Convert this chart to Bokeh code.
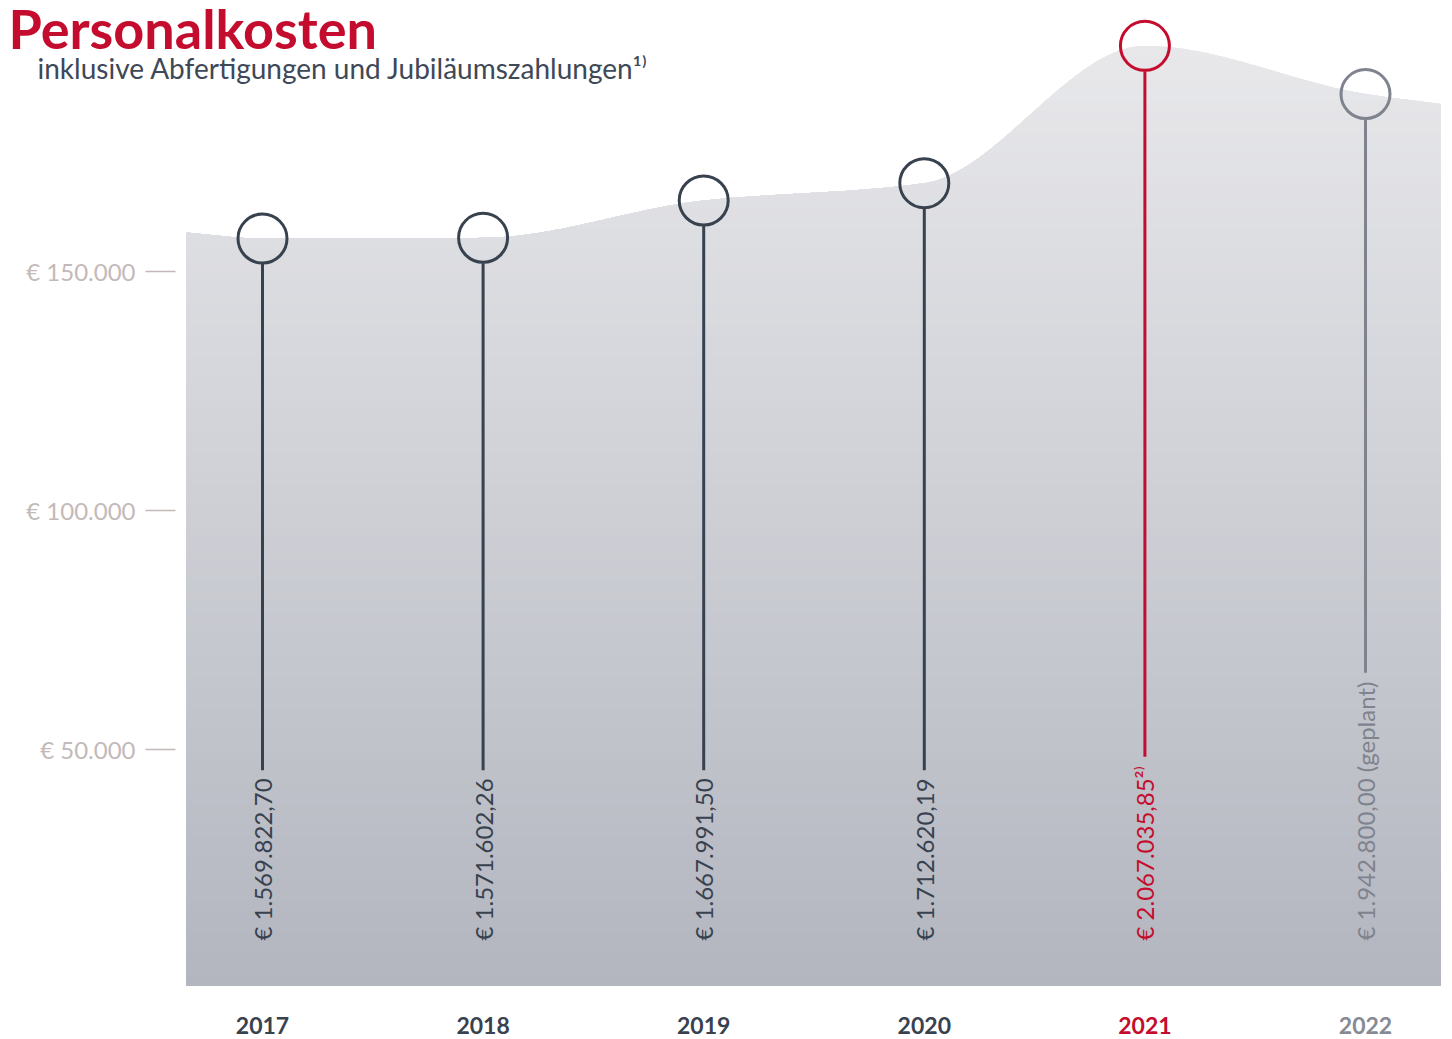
import numpy as np
from bokeh.plotting import figure
from bokeh.models import Range1d
from bokeh.core.properties import value
from bokeh.embed import file_html
from bokeh.resources import INLINE

# ---------------- data ----------------
years = ["2017", "2018", "2019", "2020", "2021", "2022"]
costs = [1569822.70, 1571602.26, 1667991.50, 1712620.19, 2067035.85, 1942800.00]
cost_labels = ["€ 1.569.822,70", "€ 1.571.602,26", "€ 1.667.991,50",
               "€ 1.712.620,19", "€ 2.067.035,85²⁾", "€ 1.942.800,00 (geplant)"]
# estimated height of the background curve at its left / right ends
curve_left_end = 1585000
curve_right_end = 1917000
ytick_values = [50000, 100000, 150000]
ytick_labels = ["€ 50.000", "€ 100.000", "€ 150.000"]
title_text = "Personalkosten"
subtitle_text = "inklusive Abfertigungen und Jubiläumszahlungen¹⁾"

# ---------------- styles ----------------
DARK = "#38424f"
RED = "#c40d2e"
GREY = "#7f838d"
year_colors = [DARK, DARK, DARK, DARK, RED, "#868a93"]
label_colors = [DARK, DARK, DARK, DARK, RED, GREY]
TICK_COL = "#c3b9b9"
FONT = "Lato"

W, H = 1452, 1039
OFF = 0  # canvas origin in page pixels

# ---------------- layout helpers (page px -> data) ----------------
X0, DX = 262.0, 220.6
def xd(px):
    return (px - X0) / DX

A_ZERO, A_SCALE = 988.0, 0.00478
def ya(py):
    return (A_ZERO - py) / A_SCALE

V_MID_PX, V_MID, V_SCALE = 166.17, 1755300.0, 387.5e-6
def yv(py):
    return V_MID + (V_MID_PX - py) / V_SCALE
UNITS_PER_PX = 1.0 / V_SCALE

p = figure(width=W, height=H, output_backend="svg", toolbar_location=None,
           x_range=Range1d(xd(OFF), xd(OFF + W)),
           y_range=Range1d(ya(OFF + H), ya(OFF)),
           x_axis_location=None, y_axis_location=None,
           min_border=0, min_border_left=0, min_border_right=0,
           min_border_top=0, min_border_bottom=0)
p.extra_y_ranges = {"v": Range1d(yv(OFF + H), yv(OFF))}
p.grid.visible = False
p.outline_line_color = None
p.background_fill_color = "white"
p.border_fill_color = "white"

# ---------------- smooth background area ----------------
cx = np.array([xd(186)] + list(range(len(years))) + [xd(1440)], dtype=float)
cy = np.array([curve_left_end] + costs + [curve_right_end], dtype=float)

def pchip(x, y, xn):
    h = np.diff(x)
    d = np.diff(y) / h
    n = len(x)
    m = np.zeros(n)
    for k in range(1, n - 1):
        if d[k - 1] * d[k] <= 0:
            m[k] = 0.0
        else:
            w1 = 2 * h[k] + h[k - 1]
            w2 = h[k] + 2 * h[k - 1]
            m[k] = (w1 + w2) / (w1 / d[k - 1] + w2 / d[k])
    m[0] = d[0]
    m[-1] = d[-1]
    out = np.empty_like(xn)
    idx = np.clip(np.searchsorted(x, xn) - 1, 0, n - 2)
    for j, t in enumerate(xn):
        k = idx[j]
        hh = h[k]
        s = (t - x[k]) / hh
        h00 = 2 * s**3 - 3 * s**2 + 1
        h10 = s**3 - 2 * s**2 + s
        h01 = -2 * s**3 + 3 * s**2
        h11 = s**3 - s**2
        out[j] = h00 * y[k] + h10 * hh * m[k] + h01 * y[k + 1] + h11 * hh * m[k + 1]
    return out

xs = np.linspace(cx[0], cx[-1], 500)
top = pchip(cx, cy, xs)
bottom = yv(985)

c_top = np.array([0xe9, 0xe9, 0xec], dtype=float)
c_bot = np.array([0xb3, 0xb6, 0xbf], dtype=float)
g_top_px, g_bot_px = 25.0, 985.0
N = 90
for k in range(N):
    hi_px = g_top_px + (g_bot_px - g_top_px) * k / N
    t = k / (N - 1)
    c = (c_top + (c_bot - c_top) * t).round().astype(int)
    col = "#%02x%02x%02x" % tuple(c)
    p.varea(x=xs, y1=np.full_like(xs, bottom), y2=np.minimum(top, yv(hi_px)),
            fill_color=col, y_range_name="v")

# ---------------- lollipops ----------------
char_w = {'€': 0.58, ' ': 0.193, '.': 0.2, ',': 0.2, '(': 0.31, ')': 0.31,
          'g': 0.51, 'e': 0.53, 'p': 0.56, 'l': 0.24, 'a': 0.5, 'n': 0.56,
          't': 0.35, '²': 0.36, '⁾': 0.2}
LABEL_PX = 24
def text_len(s):
    return sum(char_w.get(ch, 0.58) for ch in s) * LABEL_PX

LABEL_BASE_PX = 940
R_PX = 25.5
xi = list(range(len(years)))
stem_top = [c - R_PX * UNITS_PER_PX for c in costs]
stem_bot = [yv(LABEL_BASE_PX - text_len(s) - 12) for s in cost_labels]
p.segment(x0=xi, y0=stem_top, x1=xi, y1=stem_bot, line_color=label_colors,
          line_width=3, y_range_name="v")
p.scatter(x=xi, y=costs, marker="circle", size=49, fill_alpha=0,
          line_color=label_colors, line_width=3, y_range_name="v")
p.text(x=xi, y=[yv(LABEL_BASE_PX)] * len(xi), text=cost_labels, angle=np.pi / 2,
       text_align="left", text_baseline="middle", text_color=label_colors,
       text_font=value(FONT), text_font_size=f"{LABEL_PX}px", y_range_name="v")

# ---------------- year labels ----------------
p.text(x=xi, y=[ya(1025)] * len(xi), text=years, text_align="center",
       text_baseline="middle", text_color=year_colors, text_font=value(FONT),
       text_font_size="23px", text_font_style="bold")

# ---------------- y ticks ----------------
p.text(x=[xd(135)] * len(ytick_values), y=ytick_values, text=ytick_labels,
       text_align="right", text_baseline="middle", text_color=TICK_COL,
       text_font=value(FONT), text_font_size="24px")
p.segment(x0=[xd(145)] * len(ytick_values), y0=ytick_values,
          x1=[xd(175)] * len(ytick_values), y1=ytick_values,
          line_color=TICK_COL, line_width=1.5)

# ---------------- title ----------------
p.text(x=[xd(8)], y=[ya(28)], text=[title_text], text_align="left",
       text_baseline="alphabetic", text_color=RED, text_font=value(FONT),
       text_font_size="54px", text_font_style="bold")
p.text(x=[xd(37)], y=[ya(67)], text=[subtitle_text], text_align="left",
       text_baseline="alphabetic", text_color="#3e4856", text_font=value(FONT),
       text_font_size="28px")

open("out.html", "w").write(file_html(p, INLINE))
